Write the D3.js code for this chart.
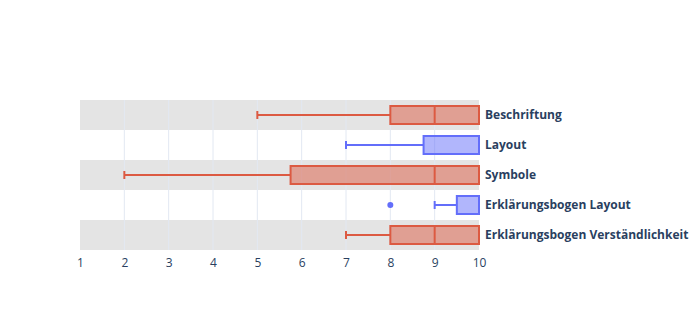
<!DOCTYPE html>
<html><head><meta charset="utf-8">
<script src="https://cdn.jsdelivr.net/npm/d3@7"></script>
<style>body{margin:0;background:#fff}svg{display:block}</style>
</head><body>
<svg id="c" width="700" height="330"></svg>
<script>
const categories = ["Beschriftung","Layout","Symbole","Erklärungsbogen Layout","Erklärungsbogen Verständlichkeit"];
const lowerWhisker = [5, 7, 2, 9, 7];
const q1 = [8, 8.75, 5.75, 9.5, 8];
const median = [9, 10, 9, 10, 9];
const q3 = [10, 10, 10, 10, 10];
const upperWhisker = [10, 10, 10, 10, 10];
const outliers = [[], [], [], [8], []];
const seriesColor = ["red","blue","red","blue","red"];
const xTicks = [1,2,3,4,5,6,7,8,9,10];

const colors = {red:{line:"#dc5a42", fill:"rgba(220,90,66,0.5)"}, blue:{line:"#636efa", fill:"rgba(99,110,250,0.5)"}};

const svg = d3.select("#c");
const m = {l:80, r:221, t:100, b:80};
const W = 700 - m.l - m.r, H = 330 - m.t - m.b;
const g = svg.append("g").attr("transform",`translate(${m.l},${m.t})`);

const x = d3.scaleLinear().domain([1,10]).range([0,W]);
const y = d3.scaleBand().domain(categories).range([0,H]);

// bands
g.selectAll("rect.band").data(categories.filter((d,i)=>i%2===0)).enter().append("rect")
  .attr("x",0).attr("width",W).attr("y",d=>y(d)).attr("height",y.bandwidth()).attr("fill","#e4e4e4");

// grid
g.selectAll("line.grid").data(xTicks.slice(1,-1)).enter().append("line")
  .attr("x1",d=>x(d)).attr("x2",d=>x(d)).attr("y1",0).attr("y2",H)
  .attr("stroke","#e2e8f2").attr("stroke-width",1);

// x axis
const xa = g.append("g").attr("transform",`translate(0,${H})`)
  .call(d3.axisBottom(x).tickValues(xTicks).tickFormat(d3.format("d")).tickSize(0).tickPadding(8));
xa.select(".domain").remove();
xa.selectAll("text").attr("font-family","'Open Sans', sans-serif").attr("font-size",12).attr("fill","#2a3f5f");

// y labels on right
const ya = g.append("g").attr("transform",`translate(${W},0)`)
  .call(d3.axisRight(y).tickSize(0).tickPadding(6));
ya.select(".domain").remove();
ya.selectAll("text").attr("font-family","'Open Sans', sans-serif").attr("font-size",12).attr("font-weight","bold").attr("fill","#2a3f5f");

const boxH = 18, capH = 8;
categories.forEach((c,i)=>{
  const col = colors[seriesColor[i]];
  const cy = y(c) + y.bandwidth()/2;
  const gg = g.append("g");
  // whisker
  gg.append("line").attr("x1",x(lowerWhisker[i])).attr("x2",x(q1[i])).attr("y1",cy).attr("y2",cy).attr("stroke",col.line).attr("stroke-width",2);
  gg.append("line").attr("x1",x(lowerWhisker[i])).attr("x2",x(lowerWhisker[i])).attr("y1",cy-capH/2).attr("y2",cy+capH/2).attr("stroke",col.line).attr("stroke-width",2);
  if (upperWhisker[i] > q3[i]) {
    gg.append("line").attr("x1",x(q3[i])).attr("x2",x(upperWhisker[i])).attr("y1",cy).attr("y2",cy).attr("stroke",col.line).attr("stroke-width",2);
  }
  gg.append("rect").attr("x",x(q1[i])).attr("width",x(q3[i])-x(q1[i])).attr("y",cy-boxH/2).attr("height",boxH)
    .attr("fill",col.fill).attr("stroke",col.line).attr("stroke-width",2);
  gg.append("line").attr("x1",x(median[i])).attr("x2",x(median[i])).attr("y1",cy-boxH/2).attr("y2",cy+boxH/2).attr("stroke",col.line).attr("stroke-width",2);
  outliers[i].forEach(o=>{
    gg.append("circle").attr("cx",x(o)).attr("cy",cy).attr("r",3).attr("fill",col.line);
  });
});
</script>
</body></html>
